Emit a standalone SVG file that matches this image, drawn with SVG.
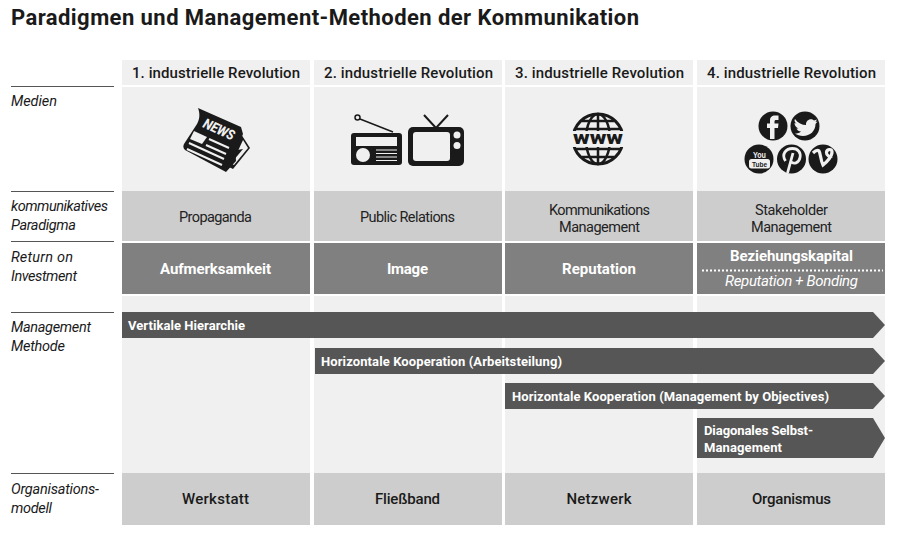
<svg xmlns="http://www.w3.org/2000/svg" width="900" height="538" viewBox="0 0 900 538">
<style>
text{font-family:Roboto,"Noto Sans","Liberation Sans",sans-serif;}
.title{font-size:22px;font-weight:700;fill:#1a1a1a}
.hd{font-size:15px;font-weight:500;fill:#1a1a1a;text-anchor:middle}
.side{font-size:14.5px;font-style:italic;fill:#1a1a1a}
.par{font-size:14.5px;fill:#222;text-anchor:middle}
.roi{font-size:15px;font-weight:700;fill:#fff;text-anchor:middle}
.org{font-size:15px;font-weight:500;fill:#1a1a1a;text-anchor:middle}
.bar{font-size:13px;font-weight:700;fill:#fff}
.light{fill:#f0f0f0}.mid{fill:#cdcdcd}.dark{fill:#808080}.arrow{fill:#565656}
.rule{stroke:#555;stroke-width:1}
.ic{fill:#1a1a1a}
</style>
<rect width="900" height="538" fill="#fff"/>
<text class="title" x="11" y="25" textLength="628">Paradigmen und Management-Methoden der Kommunikation</text>
<g id="rules">
<line class="rule" x1="11" x2="114" y1="86.5" y2="86.5"/>
<line class="rule" x1="11" x2="114" y1="191.5" y2="191.5"/>
<line class="rule" x1="11" x2="114" y1="241.5" y2="241.5"/>
<line class="rule" x1="11" x2="114" y1="312.5" y2="312.5"/>
<line class="rule" x1="11" x2="114" y1="473.5" y2="473.5"/>
</g>
<g id="side-labels">
<text class="side" x="11" y="106" textLength="46">Medien</text>
<text class="side" x="11" y="211" textLength="97">kommunikatives</text>
<text class="side" x="11" y="230" textLength="65">Paradigma</text>
<text class="side" x="11" y="262" textLength="62">Return on</text>
<text class="side" x="11" y="281" textLength="66">Investment</text>
<text class="side" x="11" y="332" textLength="80">Management</text>
<text class="side" x="11" y="351" textLength="54">Methode</text>
<text class="side" x="11" y="494" textLength="88">Organisations-</text>
<text class="side" x="11" y="513" textLength="41">modell</text>
</g>
<g id="col1">
<rect class="light" x="122" y="60" width="188" height="25"/>
<rect class="light" x="122" y="87" width="188" height="104"/>
<rect class="mid" x="122" y="191" width="188" height="50"/>
<rect class="dark" x="122" y="243" width="188" height="51"/>
<rect class="light" x="122" y="296" width="188" height="177"/>
<rect class="mid" x="122" y="473" width="188" height="52"/>
<text class="hd" x="216" y="78" textLength="168">1. industrielle Revolution</text>
<text class="par" x="215.500" y="222" textLength="73">Propaganda</text>
<text class="roi" x="215.500" y="274" textLength="111">Aufmerksamkeit</text>
<text class="org" x="215.500" y="504" textLength="67">Werkstatt</text>
</g>
<g id="col2">
<rect class="light" x="314" y="60" width="188" height="25"/>
<rect class="light" x="314" y="87" width="188" height="104"/>
<rect class="mid" x="314" y="191" width="188" height="50"/>
<rect class="dark" x="314" y="243" width="188" height="51"/>
<rect class="light" x="314" y="296" width="188" height="177"/>
<rect class="mid" x="314" y="473" width="188" height="52"/>
<text class="hd" x="408.500" y="78" textLength="169">2. industrielle Revolution</text>
<text class="par" x="407.500" y="222" textLength="95">Public Relations</text>
<text class="roi" x="407.500" y="274" textLength="41">Image</text>
<text class="org" x="407.500" y="504" textLength="65">Fließband</text>
</g>
<g id="col3">
<rect class="light" x="505" y="60" width="188" height="25"/>
<rect class="light" x="505" y="87" width="188" height="104"/>
<rect class="mid" x="505" y="191" width="188" height="50"/>
<rect class="dark" x="505" y="243" width="188" height="51"/>
<rect class="light" x="505" y="296" width="188" height="177"/>
<rect class="mid" x="505" y="473" width="188" height="52"/>
<text class="hd" x="599.500" y="78" textLength="169">3. industrielle Revolution</text>
<text class="par" x="599.500" y="214.500" textLength="101">Kommunikations</text>
<text class="par" x="599.500" y="231.500" textLength="81">Management</text>
<text class="roi" x="599" y="274" textLength="74">Reputation</text>
<text class="org" x="599" y="504" textLength="65">Netzwerk</text>
</g>
<g id="col4">
<rect class="light" x="697" y="60" width="188" height="25"/>
<rect class="light" x="697" y="87" width="188" height="104"/>
<rect class="mid" x="697" y="191" width="188" height="50"/>
<rect class="dark" x="697" y="243" width="188" height="51"/>
<rect class="light" x="697" y="296" width="188" height="177"/>
<rect class="mid" x="697" y="473" width="188" height="52"/>
<text class="hd" x="791.500" y="78" textLength="169">4. industrielle Revolution</text>
<text class="par" x="791.500" y="214.500" textLength="73">Stakeholder</text>
<text class="par" x="791.500" y="231.500" textLength="81">Management</text>
<text class="roi" x="791.500" y="261" textLength="123">Beziehungskapital</text>
<line x1="702" x2="883" y1="270.500" y2="270.500" stroke="#fff" stroke-width="2" stroke-dasharray="2 2"/>
<text class="roi" x="791.500" y="286" textLength="133" style="font-weight:400;font-style:italic">Reputation + Bonding</text>
<text class="org" x="791.500" y="504" textLength="79">Organismus</text>
</g>
<g id="icon-news">
<path class="ic" d="M241 134L250 148L233 169L227 166Z"/>
<path fill="#f0f0f0" d="M243 140L248 148L234 165L232 164Z"/>
<path class="ic" d="M237 150L243 149L233 161L231 160Z"/>
<path class="ic" d="M198 108L241 127L243 134C239 143 235 153 236 161L226 172L185 150C183 148 183 146 184 144L197 124C200 119 200 113 198 108Z"/>
<path fill="#f0f0f0" d="M194 131L207 137L202 144L190 139Z"/>
<path stroke="#f0f0f0" stroke-width="2" d="M209 139L229 148M206 145L226 154M189 143L224 159M187 149L222 165"/>
<text x="202" y="127" transform="rotate(24 202 127)" font-size="14" font-weight="800" font-style="italic" fill="#f0f0f0" textLength="33" lengthAdjust="spacingAndGlyphs">NEWS</text>
</g>
<g id="icon-radio">
<rect class="ic" x="351" y="133" width="51" height="32" rx="3"/>
<rect fill="#f0f0f0" x="356" y="137" width="41" height="9"/>
<circle cx="363" cy="155" r="7" fill="#f0f0f0"/>
<path stroke="#f0f0f0" stroke-width="1.200" d="M376 150H397M376 153.500H397M376 157H397M376 160.500H397"/>
<path stroke="#1a1a1a" stroke-width="1.500" d="M360 119L393 132"/>
<circle cx="357.500" cy="117.500" r="2.500" fill="#f0f0f0" stroke="#1a1a1a" stroke-width="1.500"/>
</g>
<g id="icon-tv">
<rect class="ic" x="408" y="127" width="56" height="39" rx="5"/>
<rect fill="#f0f0f0" x="413" y="132" width="37" height="29" rx="3"/>
<circle cx="457" cy="135" r="3.500" fill="#f0f0f0"/>
<circle cx="457" cy="145.500" r="3.500" fill="#f0f0f0"/>
<path fill="none" stroke="#1a1a1a" stroke-width="2" d="M424 115L436 128L448 115"/>
</g>
<g id="icon-www">
<circle cx="598" cy="139" r="25" fill="none" stroke="#1a1a1a" stroke-width="3"/>
<ellipse cx="598" cy="139" rx="12" ry="25" fill="none" stroke="#1a1a1a" stroke-width="2.500"/>
<path stroke="#1a1a1a" stroke-width="2.500" d="M598 114V164M582 121H614M575 129H621M575 149H621M582 157H614"/>
<rect x="568" y="131" width="60" height="16" fill="#f0f0f0"/>
<text x="598" y="144" font-size="19" font-weight="900" fill="#1a1a1a" text-anchor="middle" textLength="50" lengthAdjust="spacingAndGlyphs">www</text>
</g>
<g id="icon-social">
<circle class="ic" cx="773" cy="126" r="14.500"/>
<path fill="#f0f0f0" d="M770 139V128H767V123.500H770V120.500C770 117 772 115.500 775 115.500H778.500V120H776C775 120 774.500 120.500 774.500 121.500V123.500H778.500L778 128H774.500V139Z"/>
<circle class="ic" cx="805" cy="126" r="14.500"/>
<path fill="#f0f0f0" d="M795 119C798 123 802 125 806 125C805.500 120 811 117.500 814 120.500L817 119.500L815.500 122L817.500 121.500L815.500 124C815.500 131 810 136 803 136C800 136 797 135 795 133.500C797.500 133.500 799.500 133 801 131.500C798.500 131.500 797 130 796.500 128.500L798.500 128.500C796 127.500 794.500 125.500 794.500 123L796.500 123.500C794.500 122 794 120.500 795 119Z"/>
<circle class="ic" cx="759" cy="159" r="14.500"/>
<rect x="749" y="159" width="21" height="9.500" rx="2.500" fill="#f0f0f0"/>
<text x="759.500" y="157.500" font-size="9.500" font-weight="700" fill="#f0f0f0" text-anchor="middle" textLength="13" lengthAdjust="spacingAndGlyphs" style="font-family:'Liberation Sans',sans-serif">You</text>
<text x="759.500" y="167" font-size="8" font-weight="700" fill="#1a1a1a" text-anchor="middle" textLength="15" lengthAdjust="spacingAndGlyphs" style="font-family:'Liberation Sans',sans-serif">Tube</text>
<circle class="ic" cx="791.500" cy="159" r="14.500"/>
<path fill="none" stroke="#f0f0f0" stroke-width="2.800" d="M785.500 161C781 154 786 148.500 792.500 148.500C798.500 148.500 801 153 800 157.500C799 163 793.500 165 790.500 161M793 153L787.500 173"/>
<circle class="ic" cx="823" cy="159" r="14.500"/>
<path fill="none" stroke="#f0f0f0" stroke-width="3.200" d="M813 153C815 151 817.500 149.500 819 151C820.500 153 820.500 160 823 165C827 162 832.500 156 832 151.500C831.500 148.500 826.500 149 826.500 152.500C826.500 156 829.500 157 832 156"/>
</g>
<g id="connectors">
<path class="arrow" d="M122 312H873L885 325L873 338H122Z"/>
<path class="arrow" d="M315 348H873L885 361L873 374H315Z"/>
<path class="arrow" d="M505 383H873L885 396L873 409H505Z"/>
<path class="arrow" d="M697 418H873L885 438L873 458H697Z"/>
</g>
<g id="arrow-labels">
<text class="bar" x="128" y="330" textLength="117">Vertikale Hierarchie</text>
<text class="bar" x="321" y="366" textLength="241">Horizontale Kooperation (Arbeitsteilung)</text>
<text class="bar" x="512" y="401" textLength="317">Horizontale Kooperation (Management by Objectives)</text>
<text class="bar" x="704" y="435" textLength="109">Diagonales Selbst-</text>
<text class="bar" x="704" y="452" textLength="78">Management</text>
</g>
</svg>
